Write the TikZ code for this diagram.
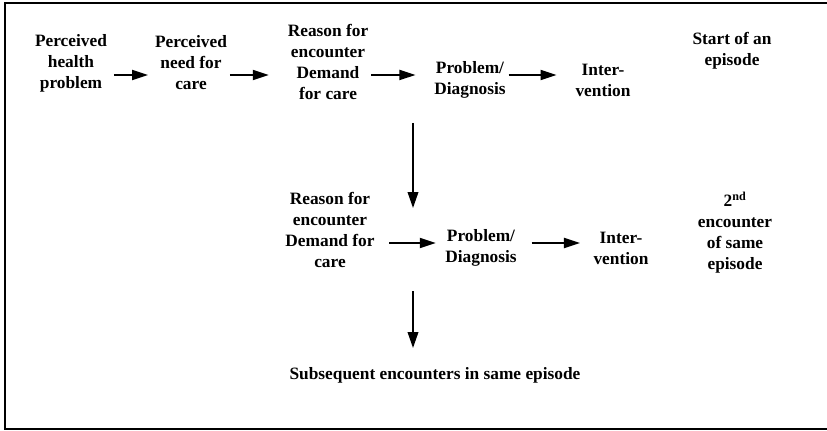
\documentclass[tikz,border=0pt]{standalone}
\usepackage{fontspec}
\setmainfont{Liberation Serif}
\usetikzlibrary{arrows.meta,positioning,calc}

\begin{document}
\begin{tikzpicture}[
  x=0.75pt, y=-0.75pt,
  stage/.style={align=center, inner sep=2pt,
    font=\bfseries\fontsize{13}{15.75}\selectfont},
  ar/.style={-{Triangle[length=12pt, width=7.5pt]}, line width=1.4pt},
  dn/.style={-{Triangle[length=12pt, width=8pt]}, line width=1.2pt},
  frame/.style={line width=1.5pt},
]
\useasboundingbox (0,0) rectangle (827,431);

%--- Rahmen (rechts offen) ---
\draw[frame] (827,3) -- (5,3) -- (5,429) -- (827,429);

%--- Zeilen fuer die Pfeile ---
\coordinate (r1) at (0,75);
\coordinate (r2) at (0,243);

%--- Erster Kontakt ---
\node[stage] (php)  at (71,63)  {Perceived\\health\\problem};
\node[stage] (pnc)  at (191,63) {Perceived\\need for\\care};
\node[stage] (rfe1) at (328,62) {Reason for\\encounter\\Demand\\for care};
\node[stage] (pd1)  at (470,80) {Problem/\\Diagnosis};
\node[stage] (iv1)  at (603,80) {Inter-\\vention};
\node[stage] (soe)  at (732,51) {Start of an\\episode};

%--- Zweiter Kontakt ---
\node[stage] (rfe2) at (330,230) {Reason for\\encounter\\Demand for\\care};
\node[stage] (pd2)  at (481,248) {Problem/\\Diagnosis};
\node[stage] (iv2)  at (621,248) {Inter-\\vention};
\node[stage] (sec)  at (735,233) {2\textsuperscript{nd}\\encounter\\of same\\episode};

%--- Folgekontakte ---
\node[stage] (sub)  at (435,375) {Subsequent encounters in same episode};

%--- Pfeile ---
\draw[ar, shorten <=3pt, shorten >=3pt] (php.east |- r1) -- (pnc.west |- r1);
\draw[ar, shorten >=12pt] (pnc.east |- r1) -- (rfe1.west |- r1);
\draw[ar, shorten >=12pt] (rfe1.east |- r1) -- (pd1.west |- r1);
\draw[ar, shorten >=12pt] (pd1.east |- r1) -- (iv1.west |- r1);

\draw[ar, shorten <=9pt, shorten >=5pt] (rfe2.east |- r2) -- (pd2.west |- r2);
\draw[ar, shorten <=9pt, shorten >=8pt] (pd2.east |- r2) -- (iv2.west |- r2);

\coordinate (v1a) at (413,123);
\coordinate (v1b) at (413,208);
\coordinate (v2a) at (413,291);
\coordinate (v2b) at (413,348);
\draw[dn] (v1a) -- (v1b);
\draw[dn] (v2a) -- (v2b);

\end{tikzpicture}
\end{document}
